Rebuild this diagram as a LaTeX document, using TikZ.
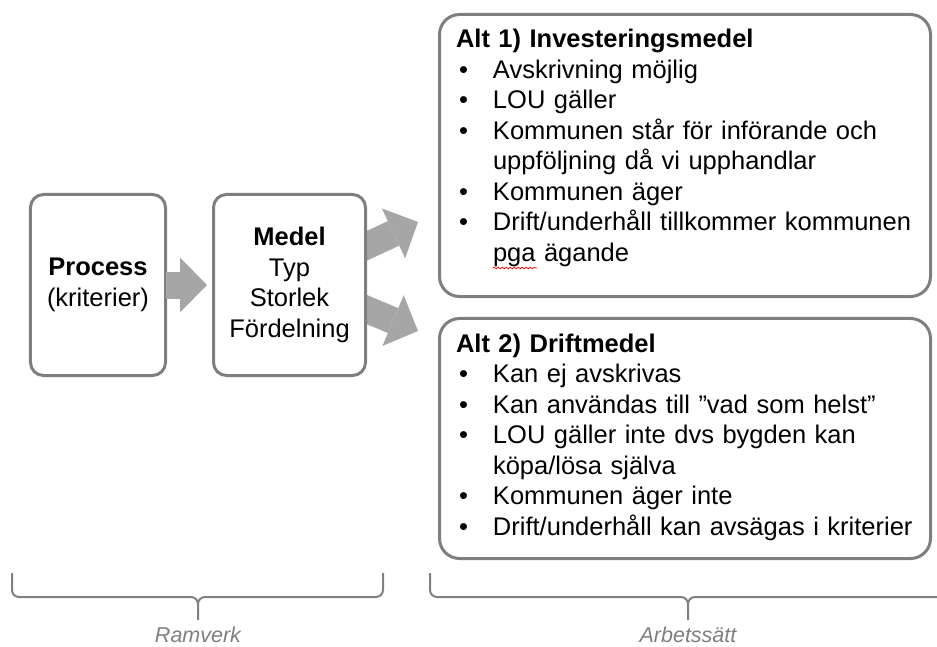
\documentclass[tikz,border=0pt]{standalone}
\usepackage{fontspec}
\setmainfont{Liberation Sans}
\usetikzlibrary{arrows.meta,calc,backgrounds,decorations.pathmorphing}

\definecolor{boxline}{HTML}{7F7F7F}
\definecolor{arrowfill}{HTML}{A6A6A6}
\definecolor{bracegray}{HTML}{808080}
\definecolor{labelgray}{HTML}{7F7F7F}

% bullet line and continuation line for the option lists
\newcommand{\blt}[1]{\noindent\makebox[37bp][l]{\hspace{3bp}•}#1\par}
\newcommand{\cnt}[1]{\noindent\hspace*{37bp}#1\par}

\tikzset{
  bodyfont/.style={font=\fontsize{25.5bp}{30.5bp}\selectfont},
  stepbox/.style={draw=boxline, line width=3bp, fill=white, rounded corners=13bp,
    inner sep=0pt, outer sep=0pt, align=center, bodyfont},
  altbox/.style={draw=boxline, line width=3bp, fill=white, rounded corners=20bp,
    inner sep=0pt, outer sep=0pt, minimum width=491bp},
  listtext/.style={anchor=north west, inner sep=0pt, outer sep=0pt,
    text width=470bp, bodyfont},
  fatarrow/.style={draw=arrowfill, line width=27bp,
    -{Triangle[length=27bp, width=55bp, line width=0pt, fill=arrowfill]}},
  bracestyle/.style={draw=bracegray, line width=2bp},
  bracelabel/.style={anchor=base, text=labelgray, inner sep=0pt,
    font=\fontsize{21.5bp}{25bp}\selectfont\itshape},
}

\begin{document}
\begin{tikzpicture}[x=1bp, y=-1bp]
  \useasboundingbox (0,0) rectangle (937,647);

  % left column: process and funding boxes
  \node[stepbox, minimum width=135bp, minimum height=181bp] (process) at (98,285)
    {\textbf{Process}\\(kriterier)};
  \node[stepbox, minimum width=152bp, minimum height=181bp] (medel) at (289.5,285)
    {\textbf{Medel}\\Typ\\Storlek\\Fördelning};

  % right column: the two alternatives
  \node[altbox, minimum height=282bp] (alt1) at (685,155.5) {};
  \node[altbox, minimum height=240bp] (alt2) at (685,438.5) {};

  \node[listtext] (alt1text) at (456,26.65) {%
    \noindent\strut\textbf{Alt 1) Investeringsmedel}\par
    \blt{Avskrivning möjlig}
    \blt{LOU gäller}
    \blt{Kommunen står för införande och}
    \cnt{uppföljning då vi upphandlar}
    \blt{Kommunen äger}
    \blt{Drift/underhåll tillkommer kommunen}
    \cnt{pga ägande}};

  \node[listtext] (alt2text) at (456,330.65) {%
    \noindent\strut\textbf{Alt 2) Driftmedel}\par
    \blt{Kan ej avskrivas}
    \blt{Kan användas till ”vad som helst”}
    \blt{LOU gäller inte dvs bygden kan}
    \cnt{köpa/lösa själva}
    \blt{Kommunen äger inte}
    \blt{Drift/underhåll kan avsägas i kriterier}};

  % spell-check squiggle under "pga"
  \draw[red, line width=0.7bp, decorate,
        decoration={snake, amplitude=0.9bp, segment length=4bp}]
    (493,268) -- (537,268);

  % arrows
  \draw[fatarrow, shorten >=6.5bp] (process.east) -- (process.east -| medel.west);

  \coordinate (tipA) at (418,222);
  \coordinate (tipB) at (418,331);
  \begin{scope}[on background layer]
    \draw[fatarrow] ($(medel.east)+(-12,-33)$) -- (tipA);
    \draw[fatarrow] ($(medel.east)+(-12,19)$) -- (tipB);
  \end{scope}

  % braces under the columns
  \draw[bracestyle] (12,573) -- (12,590) to[out=-90,in=180] (19,597) -- (191,597)
    to[out=0,in=90] (198,604) -- (198,620);
  \draw[bracestyle] (198,604) to[out=90,in=180] (205,597) -- (376,597)
    to[out=0,in=-90] (383,590) -- (383,573);
  \draw[bracestyle] (430,573) -- (430,590) to[out=-90,in=180] (437,597) -- (681,597)
    to[out=0,in=90] (688,604) -- (688,620);
  \draw[bracestyle] (688,604) to[out=90,in=180] (695,597) -- (939,597)
    to[out=0,in=-90] (946,590) -- (946,573);

  \node[bracelabel] (ramverk) at (198,642) {Ramverk};
  \node[bracelabel] (arbetssatt) at (688,642) {Arbetssätt};
\end{tikzpicture}
\end{document}
